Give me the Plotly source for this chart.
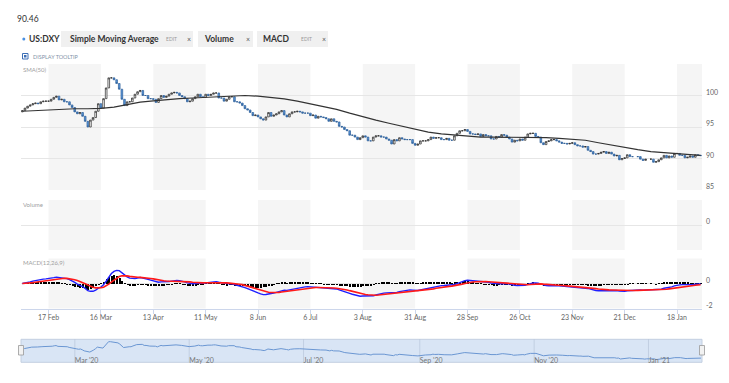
import pandas as pd
import plotly.graph_objects as go

W, H = 729, 383

# ---------------- data ----------------
closes_feb = [97.6, 98.0, 98.3, 98.5, 98.7, 98.8, 98.7, 99.0, 99.1, 99.1,
              99.1, 99.4, 99.7, 99.9, 99.3, 99.4, 99.0, 99.0, 98.5, 98.1]
closes_mar = [97.4, 97.1, 97.3, 96.7, 95.9, 95.0, 96.1, 96.5, 97.5, 98.7,
              98.0, 99.5, 101.2, 102.8, 102.8, 102.5, 101.9, 101.0, 99.4, 98.4,
              99.0, 99.0]
closes_apr = [99.6, 100.2, 100.6, 100.8, 100.0, 100.0, 99.5, 99.5, 99.4, 98.9,
              99.5, 100.0, 99.7, 99.9, 100.2, 100.4, 100.5, 100.4, 100.0, 99.8,
              99.5, 99.0]
closes_may = [99.1, 99.5, 99.8, 100.2, 99.8, 99.7, 100.2, 100.0, 100.2, 100.4,
              100.4, 99.6, 99.6, 99.1, 99.4, 99.8, 99.8, 99.0, 99.0, 98.8,
              98.4]
closes_jun = [97.9, 97.7, 97.3, 96.8, 96.9, 96.6, 96.3, 96.1, 96.6, 97.3,
              96.7, 96.9, 97.1, 97.4, 97.6, 96.9, 96.6, 97.1, 97.4, 97.4,
              97.5, 97.4]
closes_jul = [97.2, 97.2, 97.2, 96.8, 96.9, 96.4, 96.7, 96.6, 96.5, 96.3,
              95.9, 96.3, 95.9, 95.8, 95.1, 95.0, 94.6, 94.4, 93.7, 93.7,
              93.4, 93.0, 93.3]
closes_aug = [93.6, 93.4, 92.8, 92.8, 93.4, 93.6, 93.6, 93.4, 93.4, 93.1,
              92.9, 92.3, 93.0, 92.8, 93.3, 93.1, 93.0, 93.0, 93.0, 92.4,
              92.1]
closes_sep = [92.3, 92.8, 92.8, 92.8, 93.0, 93.4, 93.2, 93.3, 93.3, 93.0,
              93.0, 93.2, 92.9, 92.9, 93.6, 94.0, 94.4, 94.4, 94.6, 94.3,
              93.9, 93.9]
closes_oct = [93.8, 93.9, 93.5, 93.8, 93.6, 93.6, 93.1, 93.1, 93.5, 93.4,
              93.8, 93.7, 93.4, 93.1, 92.6, 92.9, 92.8, 93.1, 92.9, 93.4,
              93.9, 94.0]
closes_nov = [94.0, 93.5, 93.4, 92.5, 92.2, 92.7, 92.8, 93.0, 93.0, 92.8,
              92.6, 92.4, 92.4, 92.3, 92.4, 92.5, 92.2, 92.0, 92.0, 91.8,
              91.9]
closes_dec = [91.3, 91.1, 90.7, 90.7, 90.8, 91.0, 91.1, 90.8, 91.0, 90.7,
              90.4, 90.5, 89.8, 90.0, 90.1, 90.6, 90.3, 90.3, 90.3, 89.9,
              89.7, 89.9]
closes_jan = [89.9, 89.4, 89.5, 89.8, 90.1, 90.5, 90.1, 90.4, 90.2, 90.8,
              90.8, 90.5, 90.5, 90.1, 90.2, 90.4, 90.2, 90.6, 90.5, 90.46]
first_open = 97.4
holidays = ["2020-12-25", "2021-01-01"]

sma_start = "2020-02-03"
sma50 = [97.5, 97.6, 97.75, 97.85,
         97.9, 97.9, 97.95, 98.15, 98.6,
         98.95, 99.15, 99.35, 99.5,
         99.6, 99.7, 99.85, 99.95,
         100.0, 99.9, 99.7, 99.45, 99.1,
         98.7, 98.3, 97.8, 97.2,
         96.6, 96.1, 95.6, 95.1, 94.6,
         94.2, 93.9, 93.7, 93.5,
         93.4, 93.4, 93.4, 93.4,
         93.35, 93.3, 93.2, 93.1, 92.9,
         92.5, 92.1, 91.8, 91.4,
         91.1, 90.9, 90.75, 90.6]
sma_last = ("2021-01-29", 90.5)

last_label = "90.46"
x_tick_labels_format = "%-d %b"
nav_tick_format = "%b '%y"
nav_grid_months = ["2020-03-01", "2020-05-01", "2020-07-01", "2020-09-01",
                   "2020-11-01", "2021-01-01"]

# ---------------- assemble ----------------
closes = (closes_feb + closes_mar + closes_apr + closes_may + closes_jun + closes_jul
          + closes_aug + closes_sep + closes_oct + closes_nov + closes_dec + closes_jan)
dates = pd.bdate_range("2020-02-03", "2021-01-29")
dates = dates[~dates.isin(pd.to_datetime(holidays))]
assert len(dates) == len(closes), (len(dates), len(closes))

s_close = pd.Series(closes, index=dates)
opens = [first_open] + closes[:-1]
highs = [max(o, c) for o, c in zip(opens, closes)]
lows = [min(o, c) for o, c in zip(opens, closes)]

sma_dates = list(pd.date_range(sma_start, periods=len(sma50), freq="7D")) + [pd.Timestamp(sma_last[0])]
sma_vals = sma50 + [sma_last[1]]

ema12 = s_close.ewm(span=12, adjust=False).mean()
ema26 = s_close.ewm(span=26, adjust=False).mean()
macd = ema12 - ema26
signal = macd.ewm(span=9, adjust=False).mean()
hist = macd - signal


def fx(px):
    return px / W


def fy(px):
    return 1 - px / H


X_RANGE = ["2020-01-31 07:00", "2021-01-29 13:00"]
NAV_RANGE = ["2020-02-01 07:00", "2021-01-29 13:00"]

fig = go.Figure()

# price
fig.add_trace(go.Candlestick(
    x=dates, open=opens, high=highs, low=lows, close=closes,
    xaxis="x", yaxis="y",
    increasing=dict(line=dict(color="#222222", width=0.7), fillcolor="#ffffff"),
    decreasing=dict(line=dict(color="#2b5c96", width=0.7), fillcolor="#5d9be0"),
    whiskerwidth=0, showlegend=False, hoverinfo="skip"))
fig.add_trace(go.Scatter(x=sma_dates, y=sma_vals, mode="lines",
                         line=dict(color="#333333", width=1.2),
                         xaxis="x", yaxis="y", showlegend=False, hoverinfo="skip"))
# volume (no data for the index)
fig.add_trace(go.Scatter(x=[], y=[], xaxis="x", yaxis="y2", showlegend=False))
# macd
fig.add_trace(go.Bar(x=dates, y=hist.values, marker=dict(color="#000000", line=dict(width=0)),
                     width=0.45 * 86400000, xaxis="x", yaxis="y3", showlegend=False,
                     hoverinfo="skip"))
fig.add_trace(go.Scatter(x=dates, y=macd.values, mode="lines",
                         line=dict(color="#1f1fff", width=1.4),
                         xaxis="x", yaxis="y3", showlegend=False, hoverinfo="skip"))
fig.add_trace(go.Scatter(x=dates, y=signal.values, mode="lines",
                         line=dict(color="#ff1a1a", width=1.6),
                         xaxis="x", yaxis="y3", showlegend=False, hoverinfo="skip"))
# navigator
fig.add_trace(go.Scatter(x=dates, y=closes, mode="lines",
                         line=dict(color="#6a96d2", width=1),
                         xaxis="x2", yaxis="y4", showlegend=False, hoverinfo="skip"))

tickfont = dict(family="Lato, Open Sans, sans-serif", size=7, color="#666666")
grid = "#e6e6e6"
xdom = [fx(20.5), fx(702)]

fig.update_layout(
    width=W, height=H, margin=dict(l=0, r=0, t=0, b=0),
    paper_bgcolor="white", plot_bgcolor="rgba(0,0,0,0)",
    font=dict(family="Lato, Open Sans, sans-serif"),
    boxgap=0.1,
    xaxis=dict(domain=xdom, anchor="y3", type="date", range=X_RANGE,
               rangebreaks=[dict(bounds=["sat", "mon"])],
               rangeslider=dict(visible=False),
               tick0="2020-02-17", dtick=28 * 86400000, tickformat=x_tick_labels_format,
               ticks="outside", ticklen=4, tickcolor="#ccd6eb", showline=True,
               linecolor="#ccd6eb", linewidth=1, showgrid=False, zeroline=False,
               tickfont=tickfont, ticklabelstandoff=-2),
    yaxis=dict(domain=[fy(190), fy(64)], anchor="x", side="right", range=[85, 105],
               tickvals=[85, 90, 95, 100, 105], ticktext=["85", "90", "95", "100", ""],
               showgrid=True, gridcolor=grid, gridwidth=1, zeroline=False,
               ticks="", tickfont=tickfont, ticklabelshift=-3, ticklabelstandoff=3),
    yaxis2=dict(domain=[fy(250), fy(200)], anchor="x", side="right", range=[-1, 1],
                tickvals=[0], ticktext=["0"], showgrid=True, gridcolor=grid,
                zeroline=False, ticks="", tickfont=tickfont, ticklabelshift=-3,
                ticklabelstandoff=3),
    yaxis3=dict(domain=[fy(308.5), fy(258.5)], anchor="x", side="right", range=[-2, 2],
                tickvals=[-2, 0, 2], ticktext=["-2", "0", ""], showgrid=True,
                gridcolor=grid, zeroline=False, ticks="", tickfont=tickfont,
                ticklabelshift=-3, ticklabelstandoff=3),
    xaxis2=dict(domain=[fx(21), fx(702)], anchor="y4", type="date",
                range=NAV_RANGE,
                tick0="2020-03-01", dtick="M2", tickformat=nav_tick_format,
                ticklabelposition="inside right", ticks="", showgrid=False,
                showline=False, zeroline=False, ticklabelstandoff=-8,
                tickfont=dict(family="Lato, Open Sans, sans-serif", size=7, color="#777777")),
    yaxis4=dict(domain=[fy(362.3), fy(339.3)], anchor="x2", range=[87.3, 104.6],
                visible=False, showgrid=False),
    bargap=0,
)

shapes = []
# alternating bands between ticks
band_pairs = [("2020-02-17", "2020-03-16"), ("2020-04-13", "2020-05-11"),
              ("2020-06-08", "2020-07-06"), ("2020-08-03", "2020-08-31"),
              ("2020-09-28", "2020-10-26"), ("2020-11-23", "2020-12-21"),
              ("2021-01-18", X_RANGE[1])]
for a, b in band_pairs:
    for yr in ["y domain", "y2 domain", "y3 domain"]:
        shapes.append(dict(type="rect", xref="x", yref=yr, x0=a, x1=b, y0=0, y1=1,
                           fillcolor="#f5f5f5", line=dict(width=0), layer="below"))
# navigator box
shapes.append(dict(type="rect", xref="paper", yref="paper", x0=fx(21), x1=fx(702),
                   y0=fy(362.3), y1=fy(339.3), fillcolor="#d9e5f5",
                   line=dict(color="#c3cfe0", width=1), layer="below"))
for m in nav_grid_months:
    shapes.append(dict(type="line", xref="x2", yref="paper", x0=m, x1=m,
                       y0=fy(362.3), y1=fy(339.3),
                       line=dict(color="rgba(175,190,212,0.55)", width=1), layer="below"))
for hx in (21, 702):
    shapes.append(dict(type="rect", xref="paper", yref="paper", x0=fx(hx - 2.5), x1=fx(hx + 2.5),
                       y0=fy(355), y1=fy(345.5), fillcolor="#f2f2f2",
                       line=dict(color="#999999", width=0.8)))
# legend boxes
for x0, x1 in [(61, 193), (198, 253), (257, 328)]:
    shapes.append(dict(type="rect", xref="paper", yref="paper", x0=fx(x0), x1=fx(x1),
                       y0=fy(47), y1=fy(31), fillcolor="#f0f0f0", line=dict(width=0)))
# series dot
shapes.append(dict(type="circle", xref="paper", yref="paper", x0=fx(22.3), x1=fx(25.3),
                   y0=fy(40.5), y1=fy(37.5), fillcolor="#4a90e2", line=dict(width=0)))
# checkbox
shapes.append(dict(type="rect", xref="paper", yref="paper", x0=fx(22.5), x1=fx(28),
                   y0=fy(59), y1=fy(53.5), fillcolor="white",
                   line=dict(color="#3d6fb6", width=1)))
shapes.append(dict(type="rect", xref="paper", yref="paper", x0=fx(24), x1=fx(26.5),
                   y0=fy(57.5), y1=fy(55), fillcolor="#3d6fb6", line=dict(width=0)))
fig.update_layout(shapes=shapes)

ann = []


def txt(t, x, y, size, color, bold=False):
    ann.append(dict(text=("<b>%s</b>" % t) if bold else t, x=fx(x), y=fy(y),
                    xref="paper", yref="paper", xanchor="left", yanchor="middle",
                    showarrow=False,
                    font=dict(family="Lato, Open Sans, sans-serif", size=size, color=color)))


txt(last_label, 15, 19, 8.5, "#333333")
txt("US:DXY", 26.5, 39, 8.5, "#333333", True)
txt("Simple Moving Average", 68, 39, 8.5, "#333333", True)
txt("EDIT", 164, 39, 5, "#9a9a9a")
txt("×", 184.5, 39, 7, "#555555")
txt("Volume", 202, 39, 8.5, "#333333", True)
txt("×", 243.5, 39, 7, "#555555")
txt("MACD", 261, 39, 8.5, "#333333", True)
txt("EDIT", 298.5, 39, 5, "#9a9a9a")
txt("×", 319.5, 39, 7, "#555555")
txt("DISPLAY TOOLTIP", 30.5, 56.5, 5.5, "#8393a8")
txt("SMA(50)", 21, 69, 6, "#a0a0a0")
txt("Volume", 21, 204, 6, "#a0a0a0")
txt("MACD(12,26,9)", 21, 262.5, 6, "#a0a0a0")
fig.update_layout(annotations=ann)

fig.write_html("out.html", config={"displayModeBar": False},
               post_script="document.body.style.margin='0px';document.body.style.overflow='hidden';")
